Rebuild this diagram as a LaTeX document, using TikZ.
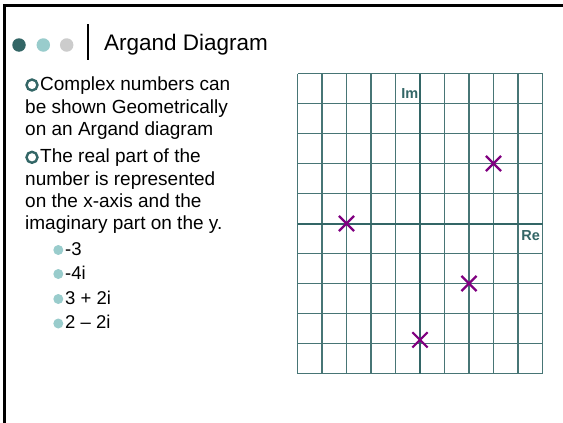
\documentclass[tikz,border=0pt]{standalone}
\usepackage{fontspec}
\setmainfont{Liberation Sans}
\usepackage{xcolor}
\usepackage{tikz}
\usetikzlibrary{shapes.misc,positioning}
\definecolor{Teal}{HTML}{336666}
\definecolor{LightTeal}{HTML}{99CCCC}
\definecolor{Silver}{HTML}{CCCCCC}
\definecolor{Plum}{HTML}{800080}

\begin{document}
\begin{tikzpicture}[
  x=1pt, y=-1pt,
  bead/.style={circle, fill=#1, inner sep=0pt, minimum size=13.5pt},
  ring/.style={circle, draw=Teal, line width=2.4pt, inner sep=0pt, minimum size=11pt},
  subdot/.style={circle, fill=LightTeal, inner sep=0pt, minimum size=10pt},
  body/.style={anchor=north west, inner sep=0pt, align=left,
    font=\fontsize{19}{22.3}\selectfont},
  item/.style={anchor=base west, inner sep=0pt, font=\fontsize{18.5}{22}\selectfont},
  gridline/.style={draw=Teal!90, line width=1.1pt},
  axis/.style={draw=Teal, line width=2pt},
  axlabel/.style={font=\bfseries\fontsize{14.5}{17}\selectfont, text=Teal, inner sep=0pt},
  cplx/.style={cross out, draw=Plum, line width=2.2pt, inner sep=0pt, minimum size=13pt}
]
\useasboundingbox (0,0) rectangle (563,423);

% Slide frame: top and left rules.
\draw[line width=3.2pt] (4.5,423) -- (4.5,5.6) -- (563,5.6);

% Title bar.
\node[bead=Teal] (d1) at (19,45) {};
\node[bead=LightTeal] (d2) at (43.3,45) {};
\node[bead=Silver] (d3) at (66.7,45) {};
\coordinate (barTop) at (87.7,24);
\coordinate (barBot) at (87.7,60);
\draw[line width=1.8pt] (barTop) -- (barBot);
\node[anchor=base west, inner sep=0pt, font=\fontsize{22.5}{27}\selectfont] (title) at (104,50)
  {Argand Diagram};

% Bullet points.
\node[ring] (b1) at (32,85) {};
\node[body] (p1) at (25,77)
  {\hspace*{15pt}Complex numbers can\\be shown Geometrically\\on an Argand diagram};
\node[ring] (b2) at (32,157.3) {};
\node[body] (p2) at (25,149)
  {\hspace*{15pt}The real part of the\\number is represented\\on the x-axis and the\\imaginary part on the y.};

\foreach \val/\yy [count=\i] in {-3/255, -4i/279, 3 + 2i/304, 2 -- 2i/328.5} {
  \node[subdot] (sd\i) at (58.3,\yy-5) {};
  \node[item] (s\i) at (65,\yy) {\val};
}

% Argand plane: 10 x 10 squares, origin in the middle.
\begin{scope}[shift={(420,223.5)}, x=24.5pt, y=30pt]
  \foreach \k in {-5,...,5} {
    \draw[gridline] (\k,-5) -- (\k,5);
    \draw[gridline] (-5,\k) -- (5,\k);
  }
  \draw[axis] (-5,0) -- (5,0);
  \draw[axis] (0,-5) -- (0,5);
  \node[axlabel, anchor=east] (im) at (-0.06,4.34) {Im};
  \node[axlabel, anchor=east] (re) at (4.9,-0.41) {Re};

  \node[cplx] (z1) at (-3,0) {};
  \node[cplx] (z2) at (0,-3.88) {};
  \node[cplx] (z3) at (3,2) {};
  \node[cplx] (z4) at (2,-2) {};
\end{scope}
\end{tikzpicture}
\end{document}
